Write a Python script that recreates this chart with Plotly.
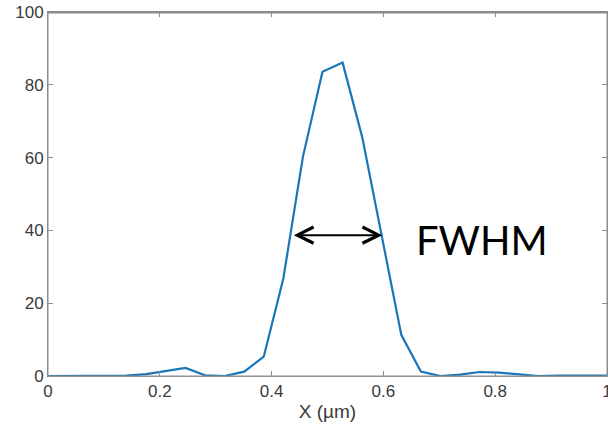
import plotly.graph_objects as go

# Sample positions (µm) and intensity values
x_um = [0.000, 0.035, 0.070, 0.105, 0.140, 0.176, 0.211, 0.246, 0.281, 0.316,
        0.351, 0.386, 0.421, 0.456, 0.491, 0.527, 0.562, 0.597, 0.632, 0.667,
        0.702, 0.737, 0.772, 0.807, 0.842, 0.877, 0.912, 0.948, 0.983, 1.018]
intensity = [0, 0, 0, 0, 0.1, 0.5, 1.3, 2.2, 0.2, 0,
             1.2, 5.3, 26.8, 60.2, 83.6, 86.1, 65.7, 39.0, 11.3, 1.2,
             0, 0.4, 1.1, 0.9, 0.4, 0, 0.1, 0.2, 0.1, 0.1]

x_ticks = [0, 0.2, 0.4, 0.6, 0.8, 1]
x_tick_labels = ["0", "0.2", "0.4", "0.6", "0.8", "1"]
y_ticks = [0, 20, 40, 60, 80, 100]

fwhm_left = 0.437
fwhm_right = 0.598
fwhm_level = 38.7
fwhm_label = "FWHM"

fig = go.Figure()
fig.add_trace(go.Scatter(x=x_um, y=intensity, mode="lines",
                         line=dict(color="#1a76b8", width=2.2),
                         showlegend=False, hoverinfo="skip", cliponaxis=True))

axis_common = dict(showline=True, linecolor="#8c8c8c", linewidth=1,
                   mirror="ticks", ticks="inside", ticklen=5,
                   tickcolor="#8c8c8c", showgrid=False, zeroline=False,
                   automargin=False, ticklabeloverflow="allow",
                   tickfont=dict(family="Liberation Sans, Arial", size=17,
                                 color="#3a3a3a"))

fig.update_xaxes(range=[0, 1], tickvals=x_ticks, ticktext=x_tick_labels,
                 title=dict(text="X (µm)", standoff=4,
                            font=dict(family="Liberation Sans, Arial", size=19,
                                      color="#3a3a3a")),
                 **axis_common)
fig.update_yaxes(range=[0, 100], tickvals=y_ticks, **axis_common)

# Box outline around the plot area
fig.add_shape(type="rect", xref="paper", yref="paper", x0=0, x1=1, y0=0, y1=1,
              line=dict(color="#8c8c8c", width=1), layer="above")
fig.add_shape(type="line", xref="paper", yref="paper", x0=0, x1=1,
              y0=0.998, y1=0.998,
              line=dict(color="#8c8c8c", width=1.3), layer="above")

fig.add_annotation(x=fwhm_right, y=fwhm_level, ax=fwhm_left, ay=fwhm_level,
                   xref="x", yref="y", axref="x", ayref="y",
                   text="", showarrow=True, arrowhead=5, arrowside="end+start",
                   arrowsize=1.6, arrowwidth=2, arrowcolor="#000000")
fig.add_annotation(x=0.654, y=37.4, xref="x", yref="y",
                   text=fwhm_label, showarrow=False, xanchor="left",
                   font=dict(family="Lato, Open Sans", size=40, color="#000000"))

fig.update_layout(width=608, height=435,
                  margin=dict(l=48, r=1, t=12, b=59),
                  plot_bgcolor="white", paper_bgcolor="white")

# Remove the default page margin so the figure sits at the window origin.
fig.write_html("out.html",
               config={"displayModeBar": False},
               post_script="document.body.style.margin='0';"
                           "document.body.style.overflow='hidden';")
